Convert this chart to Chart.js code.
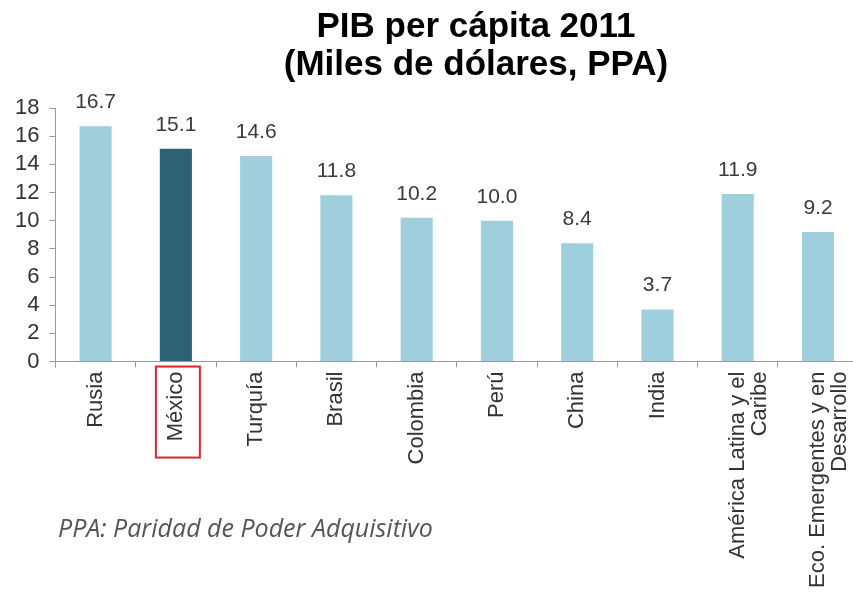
<!DOCTYPE html>
<html>
<head>
<meta charset="utf-8">
<script src="https://cdn.jsdelivr.net/npm/chart.js@4/dist/chart.umd.min.js"></script>
<style>
  html, body { margin: 0; padding: 0; background: #fff; overflow: hidden; }
  #wrap { width: 866px; height: 592px; position: relative; }
</style>
</head>
<body>
<div id="wrap"><canvas id="pib"></canvas></div>
<script>
// PIB per cápita 2011, miles de dólares PPA
const paises = [
  'Rusia', 'México', 'Turquía', 'Brasil', 'Colombia', 'Perú', 'China', 'India',
  ['América Latina y el', 'Caribe'], ['Eco. Emergentes y en', 'Desarrollo']
];
const pibPerCapita = [16.7, 15.1, 14.6, 11.8, 10.2, 10.0, 8.4, 3.7, 11.9, 9.2];
const yTicks = [0, 2, 4, 6, 8, 10, 12, 14, 16, 18];
const destacado = 1; // México

const azulClaro = '#9fcfdd';
const azulOscuro = '#2c6274';

const extras = {
  id: 'extras',
  afterDraw(chart) {
    const ctx = chart.ctx;
    const x = chart.scales.x, y = chart.scales.y;
    const meta = chart.getDatasetMeta(0);
    ctx.save();

    // etiquetas de valor
    ctx.font = '21px Arial, "Liberation Sans"';
    ctx.fillStyle = '#3a3a3a';
    ctx.textAlign = 'center';
    ctx.textBaseline = 'alphabetic';
    meta.data.forEach((bar, i) => {
      ctx.fillText(pibPerCapita[i].toFixed(1), bar.x, bar.y - 18);
    });

    // recuadro rojo sobre México
    const cx = x.getPixelForValue(destacado);
    ctx.strokeStyle = '#d9262b';
    ctx.lineWidth = 2;
    ctx.strokeRect(cx - 20, y.bottom + 5, 44, 91);

    // título
    ctx.fillStyle = '#000';
    ctx.font = 'bold 35px Arial, "Liberation Sans"';
    ctx.fillText('PIB per cápita 2011', 476, 37);
    ctx.fillText('(Miles de dólares, PPA)', 476, 75);

    // nota
    ctx.textAlign = 'left';
    ctx.fillStyle = '#555';
    ctx.font = 'italic 25px "Open Sans", "DejaVu Sans"';
    ctx.fillText('PPA: Paridad de Poder Adquisitivo', 58, 537);
    ctx.restore();
  }
};

new Chart(document.getElementById('pib'), {
  type: 'bar',
  data: {
    labels: paises,
    datasets: [{
      data: pibPerCapita,
      backgroundColor: pibPerCapita.map((v, i) => i === destacado ? azulOscuro : azulClaro),
      barPercentage: 0.4,
      categoryPercentage: 1.0
    }]
  },
  options: {
    responsive: true,
    maintainAspectRatio: false,
    animation: false,
    layout: { padding: { top: 108, left: 5, right: 0, bottom: 0 } },
    plugins: { legend: { display: false }, title: { display: false }, tooltip: { enabled: false } },
    scales: {
      x: {
        offset: true,
        grid: { offset: true, drawOnChartArea: false, color: '#999', tickLength: 6 },
        border: { color: '#999' },
        ticks: {
          minRotation: 90, maxRotation: 90, autoSkip: false,
          color: '#333', font: { family: 'Arial', size: 22, lineHeight: 1.0 }, padding: 4
        }
      },
      y: {
        min: 0, max: 18,
        afterBuildTicks(axis) { axis.ticks = yTicks.map(v => ({ value: v })); },
        grid: { drawOnChartArea: false, color: '#999', tickLength: 6 },
        border: { color: '#999' },
        ticks: { autoSkip: false, color: '#333', font: { family: 'Arial', size: 22 }, padding: 10 }
      }
    }
  },
  plugins: [extras]
});
</script>
</body>
</html>
